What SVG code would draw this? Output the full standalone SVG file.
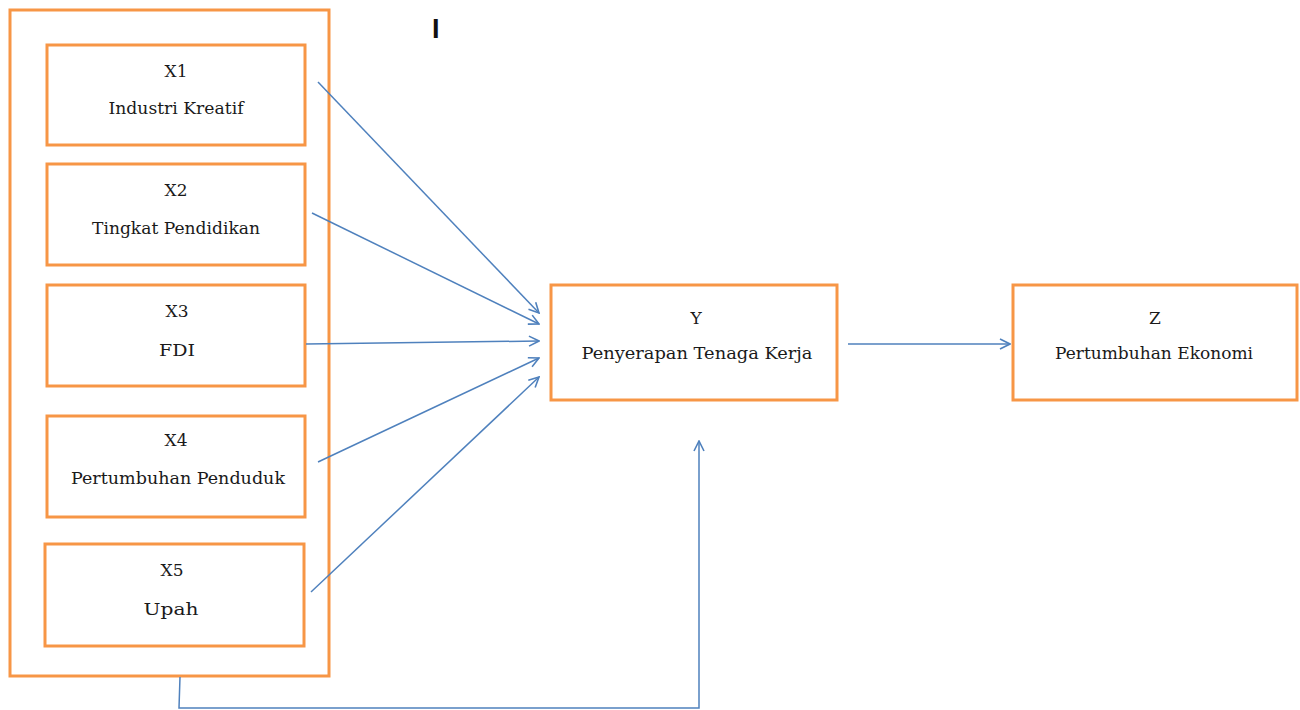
<svg xmlns="http://www.w3.org/2000/svg" width="1300" height="710" viewBox="0 0 1300 710">
<defs>
<marker id="arr" viewBox="0 0 12 12" refX="11" refY="6" markerWidth="12" markerHeight="12" markerUnits="userSpaceOnUse" orient="auto">
<path d="M1,1 L11,6 L1,11" fill="none" stroke="#4F81BD" stroke-width="1.6"/>
</marker>
</defs>
<style>
.box{fill:#fff;stroke:#F79646;stroke-width:3}
.t{font-family:'DejaVu Serif','Liberation Serif',serif;font-size:17px;fill:#1a1a1a;text-anchor:middle}
.c{fill:none;stroke:#4F81BD;stroke-width:1.5}
</style>
<rect width="1300" height="710" fill="#fff"/>
<g id="group-x">
<rect class="box" x="10" y="10" width="319" height="666"/>
</g>
<g id="x1">
<rect class="box" x="47" y="45" width="258" height="100"/>
<text class="t" x="176" y="77">X1</text>
<text class="t" x="176" y="114" textLength="135" lengthAdjust="spacingAndGlyphs">Industri Kreatif</text>
</g>
<g id="x2">
<rect class="box" x="47" y="164" width="258" height="101"/>
<text class="t" x="176" y="196">X2</text>
<text class="t" x="176" y="234" textLength="168" lengthAdjust="spacingAndGlyphs">Tingkat Pendidikan</text>
</g>
<g id="x3">
<rect class="box" x="47" y="285" width="258" height="101"/>
<text class="t" x="177" y="317">X3</text>
<text class="t" x="177" y="356" textLength="36" lengthAdjust="spacingAndGlyphs">FDI</text>
</g>
<g id="x4">
<rect class="box" x="47" y="416" width="258" height="101"/>
<text class="t" x="176" y="446">X4</text>
<text class="t" x="178" y="484" textLength="214" lengthAdjust="spacingAndGlyphs">Pertumbuhan Penduduk</text>
</g>
<g id="x5">
<rect class="box" x="45" y="544" width="259" height="102"/>
<text class="t" x="172" y="576">X5</text>
<text class="t" x="171" y="615" textLength="55" lengthAdjust="spacingAndGlyphs">Upah</text>
</g>
<g id="y">
<rect class="box" x="551" y="285" width="286" height="115"/>
<text class="t" x="696" y="324">Y</text>
<text class="t" x="697" y="359" textLength="231" lengthAdjust="spacingAndGlyphs">Penyerapan Tenaga Kerja</text>
</g>
<g id="z">
<rect class="box" x="1013" y="285" width="284" height="115"/>
<text class="t" x="1155" y="324">Z</text>
<text class="t" x="1154" y="359" textLength="198" lengthAdjust="spacingAndGlyphs">Pertumbuhan Ekonomi</text>
</g>
<text x="432" y="38" font-family="Liberation Sans, Arial, sans-serif" font-size="27" font-weight="bold" fill="#111">I</text>
<g id="connectors">
<line class="c" x1="318" y1="82" x2="539" y2="313" marker-end="url(#arr)"/>
<line class="c" x1="312" y1="213" x2="539" y2="324" marker-end="url(#arr)"/>
<line class="c" x1="306" y1="344" x2="539" y2="341" marker-end="url(#arr)"/>
<line class="c" x1="318" y1="462" x2="539" y2="358" marker-end="url(#arr)"/>
<line class="c" x1="311" y1="592" x2="539" y2="377" marker-end="url(#arr)"/>
<line class="c" x1="848" y1="344" x2="1010" y2="344" marker-end="url(#arr)"/>
<polyline class="c" points="180,677 179,708 699,708 699,441" marker-end="url(#arr)"/>
</g>
</svg>
